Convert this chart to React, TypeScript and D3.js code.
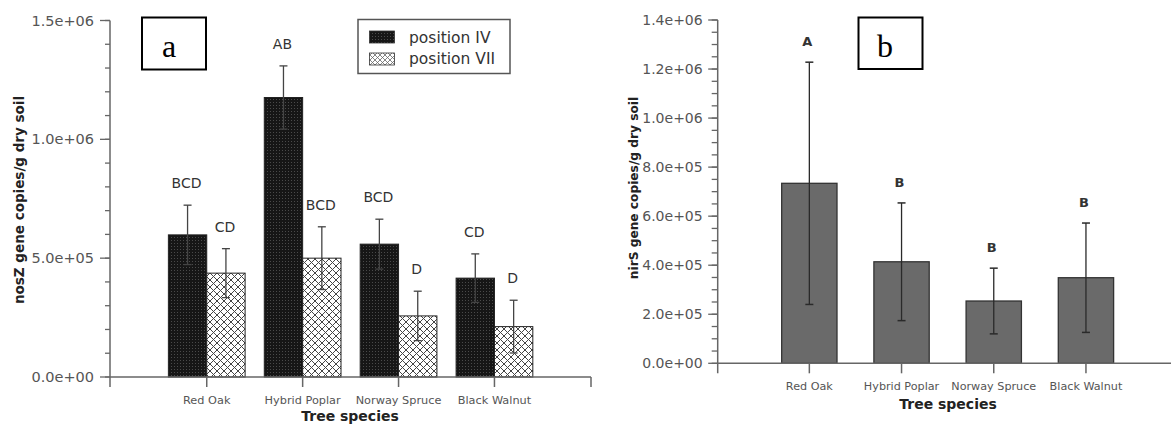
import React from "react";
import * as d3 from "d3";

const categories = ["Red Oak", "Hybrid Poplar", "Norway Spruce", "Black Walnut"];
const series = ["position IV", "position VII"];
const nosZ_IV = [598000, 1176000, 559000, 416000];
const nosZ_IV_err = [125000, 133000, 105000, 102000];
const nosZ_VII = [437000, 500000, 257000, 212000];
const nosZ_VII_err = [103000, 132000, 104000, 111000];
const nosZ_IV_letters = ["BCD", "AB", "BCD", "CD"];
const nosZ_VII_letters = ["CD", "BCD", "D", "D"];
const nirS = [734000, 414000, 254000, 349000];
const nirS_err = [494000, 240000, 134000, 223000];
const nirS_letters = ["A", "B", "B", "B"];
const leftTicks = [0, 500000, 1000000, 1500000];
const rightTicks = [0, 200000, 400000, 600000, 800000, 1000000, 1200000, 1400000];

const fmt = (v: number) => {
  const s = v.toExponential(1);
  const [m, e] = s.split("e");
  const sign = e[0] === "-" ? "-" : "+";
  const ex = e.replace(/[+-]/, "").padStart(2, "0");
  return `${m}e${sign}${ex}`;
};

const AX = "#666";
const TXT = "#555";
const FONT = "DejaVu Sans, sans-serif";

export default function App() {
  // Left panel scales
  const yL = d3.scaleLinear().domain([0, 1500000]).range([377, 20.5]);
  const xL = d3.scaleBand<string>().domain(categories).range([149.2, 552]).padding(0.2);
  const xLs = d3.scaleBand<string>().domain(series).range([0, xL.bandwidth()]);
  const leftMinor = d3.range(0, 1500001, 100000);

  // Right panel scales
  const yR = d3.scaleLinear().domain([0, 1400000]).range([363.3, 20]);
  const xR = d3.scaleBand<string>().domain(categories).range([744.8, 1150.5]).padding(0.4);
  const rightMinor = d3.range(0, 1400001, 50000);

  const leftData = [
    { s: series[0], vals: nosZ_IV, errs: nosZ_IV_err, letters: nosZ_IV_letters, fill: "url(#darkDots)" },
    { s: series[1], vals: nosZ_VII, errs: nosZ_VII_err, letters: nosZ_VII_letters, fill: "url(#crossHatch)" },
  ];

  const x0L = 110, x0R = 717.7;

  return (
    <svg width={1171} height={425} style={{ position: "absolute", left: 0, top: 0, background: "#fff" }} fontFamily={FONT}>
      <defs>
        <pattern id="darkDots" width={3} height={3} patternUnits="userSpaceOnUse">
          <rect width={3} height={3} fill="#161616" />
          <rect width={1} height={1} fill="#4a4a4a" />
        </pattern>
        <pattern id="crossHatch" width={7} height={7} patternUnits="userSpaceOnUse">
          <rect width={7} height={7} fill="#fff" />
          <path d="M0,0 L7,7 M7,0 L0,7 M-1,6 L1,8 M6,-1 L8,1 M-1,1 L1,-1 M6,8 L8,6" stroke="#444" strokeWidth={1} />
        </pattern>
        <pattern id="crossHatchSmall" width={5} height={5} patternUnits="userSpaceOnUse">
          <rect width={5} height={5} fill="#fff" />
          <path d="M0,0 L5,5 M5,0 L0,5" stroke="#666" strokeWidth={0.8} />
        </pattern>
      </defs>

      {/* ===== Left panel ===== */}
      {leftData.map((d) =>
        categories.map((c, i) => {
          const x = (xL(c) as number) + (xLs(d.s) as number);
          const w = xLs.bandwidth();
          const cx = x + w / 2;
          const top = yL(d.vals[i]);
          const eTop = yL(d.vals[i] + d.errs[i]);
          const eBot = yL(d.vals[i] - d.errs[i]);
          return (
            <g key={d.s + c}>
              <rect x={x} y={top} width={w} height={yL(0) - top} fill={d.fill} stroke="#222" strokeWidth={1} />
              <line x1={cx} x2={cx} y1={eTop} y2={eBot} stroke="#444" strokeWidth={1.3} />
              <line x1={cx - 4} x2={cx + 4} y1={eTop} y2={eTop} stroke="#444" strokeWidth={1.3} />
              <line x1={cx - 4} x2={cx + 4} y1={eBot} y2={eBot} stroke="#444" strokeWidth={1.3} />
              <text x={cx - 1} y={eTop - 17} textAnchor="middle" fontSize={14} fill="#333">{d.letters[i]}</text>
            </g>
          );
        })
      )}

      {/* left axes */}
      <line x1={x0L} x2={x0L} y1={yL(1500000)} y2={387} stroke={AX} strokeWidth={1.5} />
      <line x1={x0L} x2={591} y1={yL(0)} y2={yL(0)} stroke={AX} strokeWidth={1.5} />
      <line x1={591} x2={591} y1={yL(0)} y2={387} stroke={AX} strokeWidth={1.5} />
      {leftMinor.map((v) => (
        <line key={"lm" + v} x1={x0L - 5} x2={x0L} y1={yL(v)} y2={yL(v)} stroke={AX} strokeWidth={1.3} />
      ))}
      {leftTicks.map((v) => (
        <g key={"lt" + v}>
          <line x1={x0L - 10} x2={x0L} y1={yL(v)} y2={yL(v)} stroke={AX} strokeWidth={1.3} />
          <text x={x0L - 16} y={yL(v) + 5} textAnchor="end" fontSize={14.5} fill={TXT}>{fmt(v)}</text>
        </g>
      ))}
      {categories.map((c) => {
        const cx = (xL(c) as number) + xL.bandwidth() / 2;
        return (
          <g key={"lc" + c}>
            <line x1={cx} x2={cx} y1={yL(0)} y2={387} stroke={AX} strokeWidth={1.5} />
            <text x={cx} y={404} textAnchor="middle" fontSize={11.3} fill={TXT}>{c}</text>
          </g>
        );
      })}
      <text x={350} y={421} textAnchor="middle" fontSize={14} fontWeight="bold" fill="#222">Tree species</text>
      <text transform="translate(24,200) rotate(-90)" textAnchor="middle" fontSize={13.5} fontWeight="bold" fill="#222">
        nosZ gene copies/g dry soil
      </text>

      {/* label a */}
      <rect x={142} y={17.5} width={64} height={52} fill="#fff" stroke="#000" strokeWidth={2} />
      <text x={169} y={57} textAnchor="middle" fontSize={32} fontFamily="Liberation Serif, serif" fill="#000">a</text>

      {/* legend */}
      <rect x={358} y={19.5} width={152} height={54} fill="#fff" stroke="#555" strokeWidth={1.5} />
      {leftData.map((d, i) => (
        <g key={"lg" + d.s}>
          <rect x={369.5} y={31 + i * 22} width={25} height={12} fill={i === 0 ? "url(#darkDots)" : "url(#crossHatchSmall)"} stroke="#333" strokeWidth={0.8} />
          <text x={409} y={43 + i * 20.5} fontSize={15.5} fill="#333">{d.s}</text>
        </g>
      ))}

      {/* ===== Right panel ===== */}
      {categories.map((c, i) => {
        const x = xR(c) as number;
        const w = xR.bandwidth();
        const cx = x + w / 2;
        const top = yR(nirS[i]);
        const eTop = yR(nirS[i] + nirS_err[i]);
        const eBot = yR(nirS[i] - nirS_err[i]);
        return (
          <g key={"r" + c}>
            <rect x={x} y={top} width={w} height={yR(0) - top} fill="#6a6a6a" stroke="#333" strokeWidth={1.3} />
            <line x1={cx} x2={cx} y1={eTop} y2={eBot} stroke="#2a2a2a" strokeWidth={1.3} />
            <line x1={cx - 4} x2={cx + 4} y1={eTop} y2={eTop} stroke="#2a2a2a" strokeWidth={1.5} />
            <line x1={cx - 4} x2={cx + 4} y1={eBot} y2={eBot} stroke="#2a2a2a" strokeWidth={1.5} />
            <text x={cx - 2} y={eTop - 16} textAnchor="middle" fontSize={13} fontWeight="bold" fill="#333">{nirS_letters[i]}</text>
          </g>
        );
      })}

      {/* right axes */}
      <line x1={x0R} x2={x0R} y1={yR(1400000)} y2={373.3} stroke={AX} strokeWidth={1.5} />
      <line x1={x0R} x2={1171} y1={yR(0)} y2={yR(0)} stroke={AX} strokeWidth={1.5} />
      {rightMinor.map((v) => (
        <line key={"rm" + v} x1={x0R - 6} x2={x0R} y1={yR(v)} y2={yR(v)} stroke={AX} strokeWidth={1.3} />
      ))}
      {rightTicks.map((v) => (
        <g key={"rt" + v}>
          <line x1={x0R - 9.5} x2={x0R} y1={yR(v)} y2={yR(v)} stroke={AX} strokeWidth={1.3} />
          <text x={x0R - 15} y={yR(v) + 5} textAnchor="end" fontSize={14} fill={TXT}>{fmt(v)}</text>
        </g>
      ))}
      {categories.map((c) => {
        const cx = (xR(c) as number) + xR.bandwidth() / 2;
        return (
          <g key={"rc" + c}>
            <line x1={cx} x2={cx} y1={yR(0)} y2={373.3} stroke={AX} strokeWidth={1.5} />
            <text x={cx} y={390} textAnchor="middle" fontSize={11.2} fill={TXT}>{c}</text>
          </g>
        );
      })}
      <text x={948} y={409} textAnchor="middle" fontSize={14} fontWeight="bold" fill="#222">Tree species</text>
      <text transform="translate(637.5,188) rotate(-90)" textAnchor="middle" fontSize={12.2} fontWeight="bold" fill="#222">
        nirS gene copies/g dry soil
      </text>

      {/* label b */}
      <rect x={858.5} y={17.5} width={64} height={51.5} fill="#fff" stroke="#000" strokeWidth={2} />
      <text x={885} y={57} textAnchor="middle" fontSize={32} fontFamily="Liberation Serif, serif" fill="#000">b</text>
    </svg>
  );
}
